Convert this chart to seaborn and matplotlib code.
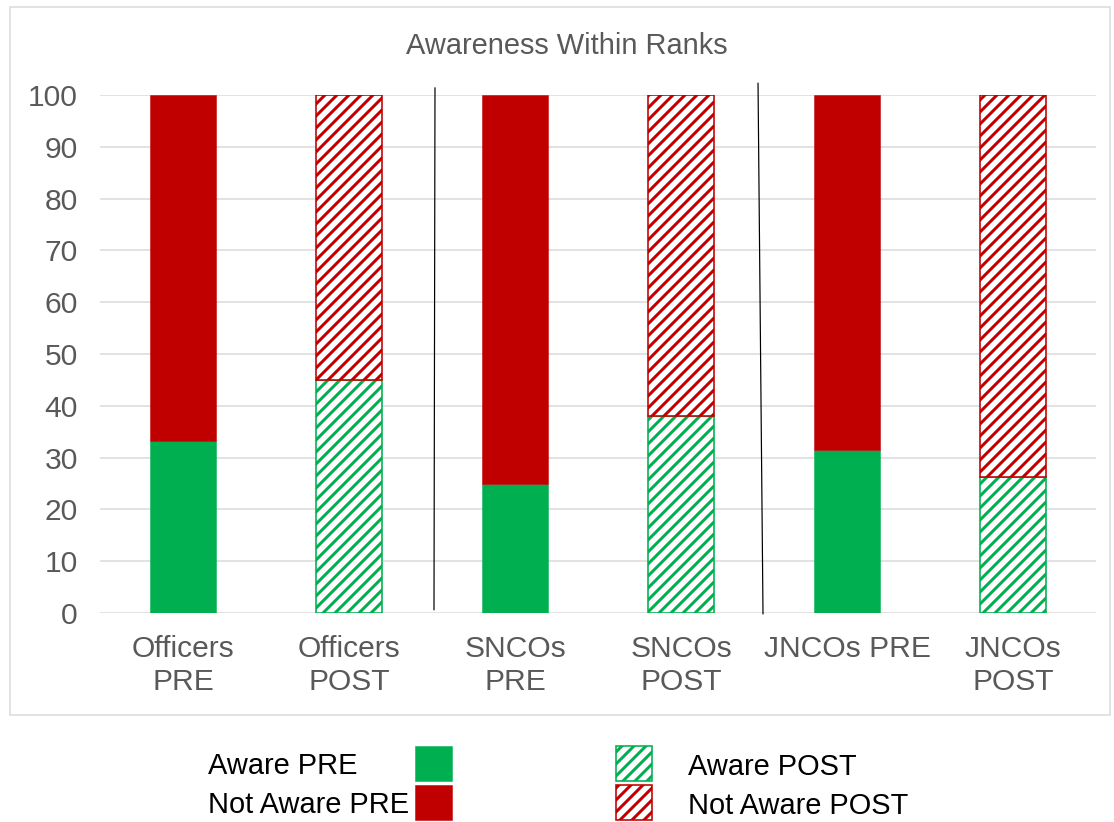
import matplotlib
matplotlib.use("Agg")
import matplotlib.pyplot as plt
import numpy as np
import pandas as pd
import seaborn as sns
from matplotlib.patches import Rectangle
from matplotlib.lines import Line2D

# ---------------- data ----------------
categories = ["Officers\nPRE", "Officers\nPOST", "SNCOs\nPRE", "SNCOs\nPOST",
              "JNCOs PRE", "JNCOs\nPOST"]
phase = ["PRE", "POST", "PRE", "POST", "PRE", "POST"]
aware = [33.3, 45.0, 25.0, 38.0, 31.4, 26.3]
not_aware = [66.7, 55.0, 75.0, 62.0, 68.6, 73.7]
y_ticks = [0, 10, 20, 30, 40, 50, 60, 70, 80, 90, 100]
title = "Awareness Within Ranks"
legend_labels = ["Aware PRE", "Not Aware PRE", "Aware POST", "Not Aware POST"]

GREEN = "#00B050"
RED = "#C00000"
GREY_TXT = "#595959"
GRID = "#D9D9D9"

sns.set_theme(style="white")
plt.rcParams["font.family"] = ["Liberation Sans", "DejaVu Sans"]
plt.rcParams["hatch.linewidth"] = 3.0

DPI = 72
W, H = 1114, 822
fig = plt.figure(figsize=(W / DPI, H / DPI), dpi=DPI)
fig.patch.set_facecolor("white")


def fx(x):
    return x / W


def fy(y):
    return 1 - y / H


ax = fig.add_axes([fx(100), fy(613), 996 / W, 518 / H])

df = pd.DataFrame({"label": categories, "phase": phase,
                   "aware": aware, "not_aware": not_aware})

n0 = len(ax.patches)
sns.barplot(data=df, x="label", y="aware", color=GREEN, saturation=1,
            width=0.4, errorbar=None, ax=ax, zorder=3)
aware_patches = ax.patches[n0:]
n1 = len(ax.patches)
sns.barplot(data=df, x="label", y="not_aware", color=RED, saturation=1,
            width=0.4, errorbar=None, ax=ax, zorder=3)
na_patches = ax.patches[n1:]

for p, a in zip(na_patches, df["aware"]):
    p.set_y(a)

for patches, col in ((aware_patches, GREEN), (na_patches, RED)):
    for p, ph in zip(patches, df["phase"]):
        if ph == "POST":
            p.set_facecolor("white")
            p.set_edgecolor(col)
            p.set_hatch("//")
            p.set_linewidth(1.6)
        else:
            p.set_facecolor(col)
            p.set_edgecolor(col)
            p.set_linewidth(0.5)

ax.set_ylim(0, 100)
ax.set_yticks(y_ticks)
ax.set_xlabel("")
ax.set_ylabel("")
ax.yaxis.grid(True, color=GRID, linewidth=1.5)
ax.set_axisbelow(True)
for s in ax.spines.values():
    s.set_visible(False)
ax.tick_params(axis="both", length=0, labelsize=30, labelcolor=GREY_TXT)
ax.tick_params(axis="y", pad=22)
ax.tick_params(axis="x", pad=22)
for t in ax.get_xticklabels():
    t.set_linespacing(1.25)

# group separators
for (x0, y0, x1, y1) in [(1.518, 101.4, 1.512, 0.6), (3.464, 102.3, 3.494, -0.2)]:
    ax.add_line(Line2D([x0, x1], [y0, y1], color="black", lw=1.2,
                       clip_on=False, zorder=4))

# title
fig.text(fx(567), fy(46), title, ha="center", va="center",
         fontsize=29, color=GREY_TXT)

# chart border
fig.add_artist(Rectangle((fx(10), fy(715)), 1100 / W, 708 / H, fill=False,
                         edgecolor=GRID, lw=1.5, transform=fig.transFigure))

# legend (manual layout)
leg_font = 29
rows_y = [763, 802]
# left column: text then filled square
for lab, yc, col in zip(legend_labels[:2], rows_y, [GREEN, RED]):
    fig.text(fx(208), fy(yc + 3), lab, ha="left", va="center",
             fontsize=leg_font, color="black")
    fig.add_artist(Rectangle((fx(415), fy(yc + 17.5)), 37 / W, 35 / H,
                             facecolor=col, edgecolor=col, lw=0.5,
                             transform=fig.transFigure))
# right column: hatched square then text
for lab, yc, col in zip(legend_labels[2:], rows_y, [GREEN, RED]):
    fig.add_artist(Rectangle((fx(615.5), fy(yc + 17.5)), 36 / W, 35 / H,
                             facecolor="white", edgecolor=col, hatch="//",
                             lw=1.6, transform=fig.transFigure))
    fig.text(fx(688), fy(yc + 4), lab, ha="left", va="center",
             fontsize=leg_font, color="black")

fig.savefig("out.png", dpi=DPI, facecolor="white")
